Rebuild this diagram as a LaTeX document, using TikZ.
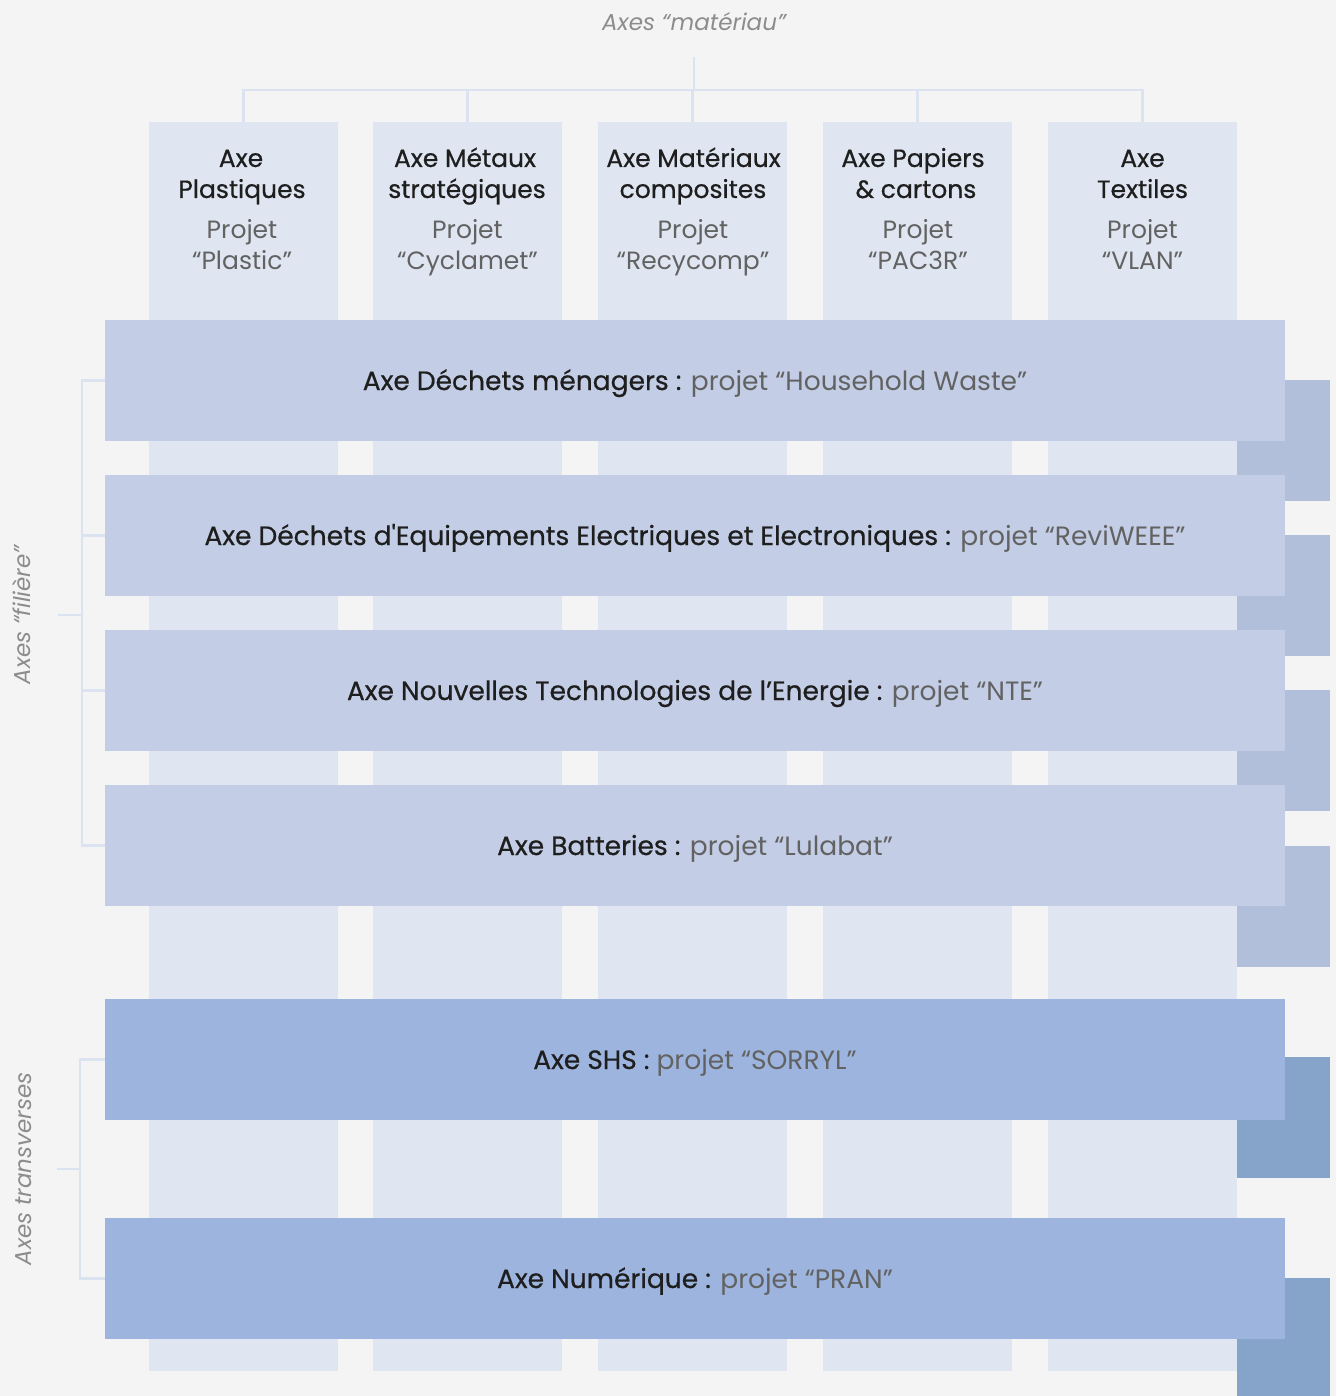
\documentclass[tikz,border=0pt]{standalone}
\usepackage{fontspec}
\newfontfamily\pop{Poppins}
\newfontfamily\popmed{Poppins}[FakeBold=0.6]
\definecolor{bgc}{HTML}{F4F4F4}
\definecolor{colc}{HTML}{DFE5F1}
\definecolor{barc}{HTML}{C3CEE6}
\definecolor{barsh}{HTML}{B1BFDA}
\definecolor{trc}{HTML}{9DB5DE}
\definecolor{trsh}{HTML}{86A3CA}
\definecolor{linec}{HTML}{DCE3F0}
\definecolor{darkt}{HTML}{1E1E1E}
\definecolor{lightt}{HTML}{626262}
\definecolor{axist}{HTML}{8C8C8C}
\newcommand{\lightpart}[1]{{\pop\color{lightt}#1}}
\begin{document}
\begin{tikzpicture}[x=1pt,y=-1pt,
  colbox/.style={fill=colc,draw=none,inner sep=0pt,minimum width=189pt,minimum height=1249pt},
  shbox/.style={draw=none,inner sep=0pt,minimum width=93pt,minimum height=121pt},
  barbox/.style={draw=none,inner sep=0pt,minimum width=1180pt,minimum height=121pt,text height=19pt,text depth=0pt,font=\fontsize{26.5}{30}\popmed,text=darkt},
  coltitle/.style={anchor=base,font=\fontsize{25}{30}\popmed,text=darkt,inner sep=0pt},
  colproj/.style={anchor=base,font=\fontsize{25}{30}\pop,text=lightt,inner sep=0pt},
  axislabel/.style={font=\fontsize{23}{26}\pop\itshape,text=axist,inner sep=0pt},
  conn/.style={draw=linec,line width=2.5pt}
]
\useasboundingbox[fill=bgc] (0,0) rectangle (1336,1396);

% columns
\node[colbox] (c1) at (243.5,746.5) {};
\node[colbox] (c2) at (467.5,746.5) {};
\node[colbox] (c3) at (692.5,746.5) {};
\node[colbox] (c4) at (917.5,746.5) {};
\node[colbox] (c5) at (1142.5,746.5) {};

% column texts
\node[coltitle] (t1a) at (241,167) {Axe};
\node[coltitle] (t1b) at (242,198) {Plastiques};
\node[coltitle] (t2a) at (465,167) {Axe Métaux};
\node[coltitle] (t2b) at (467,198) {stratégiques};
\node[coltitle] (t3a) at (693.5,167) {Axe Matériaux};
\node[coltitle] (t3b) at (693,198) {composites};
\node[coltitle] (t4a) at (913,167) {Axe Papiers};
\node[coltitle] (t4b) at (916,198) {\& cartons};
\node[coltitle] (t5a) at (1142.5,167) {Axe};
\node[coltitle] (t5b) at (1142.5,198) {Textiles};
\node[colproj] (p1a) at (242,239) {Projet};
\node[colproj] (p1b) at (242,270) {“Plastic”};
\node[colproj] (p2a) at (467.5,239) {Projet};
\node[colproj] (p2b) at (467.5,270) {“Cyclamet”};
\node[colproj] (p3a) at (693,239) {Projet};
\node[colproj] (p3b) at (693,270) {“Recycomp”};
\node[colproj] (p4a) at (918,239) {Projet};
\node[colproj] (p4b) at (918,270) {“PAC3R”};
\node[colproj] (p5a) at (1142.5,239) {Projet};
\node[colproj] (p5b) at (1142.5,270) {“VLAN”};

% shadows
\node[shbox,fill=barsh] (s1) at (1283.5,440.5) {};
\node[shbox,fill=barsh] (s2) at (1283.5,595.5) {};
\node[shbox,fill=barsh] (s3) at (1283.5,750.5) {};
\node[shbox,fill=barsh] (s4) at (1283.5,906.5) {};
\node[shbox,fill=trsh] (s5) at (1283.5,1117.5) {};
\node[shbox,fill=trsh] (s6) at (1283.5,1338.5) {};

% bars
\node[barbox,fill=barc] (f1) at (695,380.5) {Axe Déchets ménagers : \lightpart{projet “Household Waste”}};
\node[barbox,fill=barc] (f2) at (695,535.5) {Axe Déchets d'Equipements Electriques et Electroniques : \lightpart{projet “ReviWEEE”}};
\node[barbox,fill=barc] (f3) at (695,690.5) {Axe Nouvelles Technologies de l’Energie : \lightpart{projet “NTE”}};
\node[barbox,fill=barc] (f4) at (695,845.5) {Axe Batteries : \lightpart{projet “Lulabat”}};
\node[barbox,fill=trc] (x1) at (695,1059.5) {Axe SHS : \lightpart{projet “SORRYL”}};
\node[barbox,fill=trc] (x2) at (695,1278.5) {Axe Numérique : \lightpart{projet “PRAN”}};

% top bracket
\node[axislabel] (lm) at (694,22) {Axes “matériau”};
\coordinate (mtop) at (694,57);
\coordinate (mjoin) at (694,90);
\draw[conn] (mtop) -- (mjoin);
\draw[conn] (c1.north) -- (c1.north |- mjoin) -- (c5.north |- mjoin) -- (c5.north);
\draw[conn] (c2.north) -- (c2.north |- mjoin);
\draw[conn] (c3.north) -- (c3.north |- mjoin);
\draw[conn] (c4.north) -- (c4.north |- mjoin);

% left bracket filiere
\node[axislabel,rotate=90] (lf) at (22,615) {Axes “filière”};
\draw[conn] (f1.west) -- ++(-23,0) |- (f4.west);
\draw[conn] (f2.west) -- ++(-23,0);
\draw[conn] (f3.west) -- ++(-23,0);
\coordinate (fmid) at (82,615);
\draw[conn] (fmid) -- ++(-24,0);

% left bracket transverses
\node[axislabel,rotate=90] (lt) at (24,1169) {Axes transverses};
\draw[conn] (x1.west) -- ++(-25,0) |- (x2.west);
\coordinate (tmid) at (80,1169);
\draw[conn] (tmid) -- ++(-23,0);
\end{tikzpicture}
\end{document}
